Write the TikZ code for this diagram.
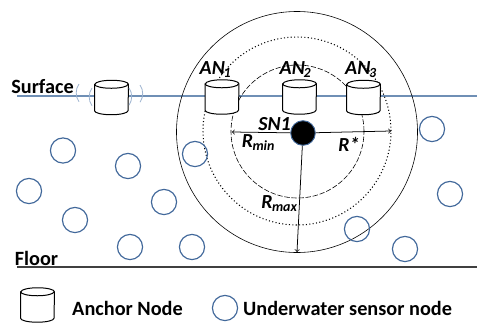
\documentclass[tikz,border=0pt]{standalone}
\usepackage{fontspec}
\setmainfont{Carlito}
\usepackage{tikz}
\usetikzlibrary{arrows}

\definecolor{nodeblue}{HTML}{41689A}
\definecolor{surfaceblue}{HTML}{6F8FB5}
\definecolor{waveblue}{HTML}{9DB3CF}
\definecolor{floorgray}{HTML}{404040}

\tikzset{
  anchorbody/.style={shape=rectangle,inner sep=0pt,minimum width=28.6pt,minimum height=22.2pt},
  anchorline/.style={draw=black,line width=0.85pt},
  sensornode/.style={draw=nodeblue,line width=1pt,shape=circle,minimum size=21.5pt,inner sep=0pt},
  headnode/.style={inner sep=0pt,font=\fontsize{17.3}{17.3}\selectfont\bfseries},
  rangenode/.style={inner sep=0pt,font=\fontsize{17}{17}\selectfont\bfseries\itshape},
  legendnode/.style={inner sep=0pt,anchor=west,font=\fontsize{17.3}{17.3}\selectfont\bfseries},
  wave/.style={draw=waveblue,line width=0.7pt},
  radius line/.style={black,line width=0.65pt,->,>=to},
}

% one can: a named body node, then its outline and the rim
\newcommand{\anchorcan}[3]{
  \node [anchorbody] (#1) at (#2,#3) {};
  \draw [anchorline,fill=white] (#1.north west) -- (#1.south west) arc (180:360:16.75 and 4)
    -- (#1.north east) arc (0:180:16.75 and 4) -- cycle;
  \draw [anchorline] (#1.north west) arc (180:360:16.75 and 4);
}

\begin{document}
\begin{tikzpicture}[scale=0.03]
            \useasboundingbox (0,0) rectangle (477,-322);
            % water lines
            \coordinate (surfaceL) at (17,-96);
            \coordinate (surfaceR) at (477,-96);
            \coordinate (floorL) at (17,-267);
            \coordinate (floorR) at (477,-267);
            \draw [surfaceblue,line width=1pt] (surfaceL) -- (surfaceR);
            \draw [floorgray,line width=0.9pt] (floorL) -- (floorR);
            % ranges
            \draw [black,line width=0.5pt] (297,-132) circle (120.5);
            \draw [black,line width=0.9pt,dotted] (297,-131) circle (94);
            \draw [black,line width=0.5pt,dash pattern=on 4.5pt off 1.6pt] (297.5,-131.5) circle (66.5);
            % anchors
            \anchorcan{free}{111.5}{-97.5}
            \anchorcan{an1}{222}{-97}
            \anchorcan{an2}{299.5}{-97}
            \anchorcan{an3}{363.5}{-97.5}
            \anchorcan{legendAnchor}{37.5}{-305}
            % signal
            \draw [wave] (79,-84) arc (145:215:15.5);
            \draw [wave] (92,-88) arc (145:215:15.5);
            \draw [wave] (129,-88) arc (35:-35:15);
            \draw [wave] (140,-85) arc (35:-35:15);
            % sensor nodes
            \node [sensornode] (s1) at (63,-150.5) {};
            \node [sensornode] (s2) at (128,-166) {};
            \node [sensornode] (s3) at (29,-191) {};
            \node [sensornode] (s4) at (75,-220) {};
            \node [sensornode] (s5) at (164,-202) {};
            \node [sensornode] (s6) at (130,-247) {};
            \node [sensornode] (s7) at (192,-247) {};
            \node [sensornode] (s8) at (195,-154) {};
            \node [sensornode] (s9) at (432,-129) {};
            \node [sensornode] (s10) at (450,-194) {};
            \node [sensornode] (s11) at (357,-229) {};
            \node [sensornode] (s12) at (405,-249) {};
            \node [sensornode] (legendSensor) at (225,-308) {};
            % target node and radii
            \node [draw=nodeblue,fill=black,line width=0.8pt,shape=circle,minimum size=21pt,inner sep=0pt] (sn1) at (303,-133) {};
            \coordinate (rminEnd) at (232,-132);
            \coordinate (rstarEnd) at (391,-131);
            \coordinate (rmaxEnd) at (297,-252);
            \draw [radius line] (sn1) -- (rminEnd);
            \draw [radius line] (sn1) -- (rstarEnd);
            \draw [radius line] (sn1) -- (rmaxEnd);
            % labels
            \node [headnode] (surfaceText) at (42.5,-87) {Surface};
            \node [headnode] (floorText) at (36.5,-258) {Floor};
            \node [rangenode] (an1Text) at (215.5,-70) {AN\kern-1pt\textsubscript{1}};
            \node [rangenode] (an2Text) at (295.5,-70) {AN\kern-1pt\textsubscript{2}};
            \node [rangenode] (an3Text) at (361,-70) {AN\kern-1pt\textsubscript{3}};
            \node [rangenode] (sn1Text) at (274.5,-124) {SN1};
            \node [rangenode] (rminText) at (258.5,-143) {R\kern-0.5pt\textsubscript{min}};
            \node [rangenode] (rstarText) at (349,-144) {R*};
            \node [rangenode] (rmaxText) at (279.5,-204) {R\kern-0.5pt\textsubscript{max}};
            \node [legendnode] (anchorText) at (72,-308) {Anchor Node};
            \node [legendnode] (sensorText) at (243,-308) {Underwater sensor node};
\end{tikzpicture}
\end{document}
